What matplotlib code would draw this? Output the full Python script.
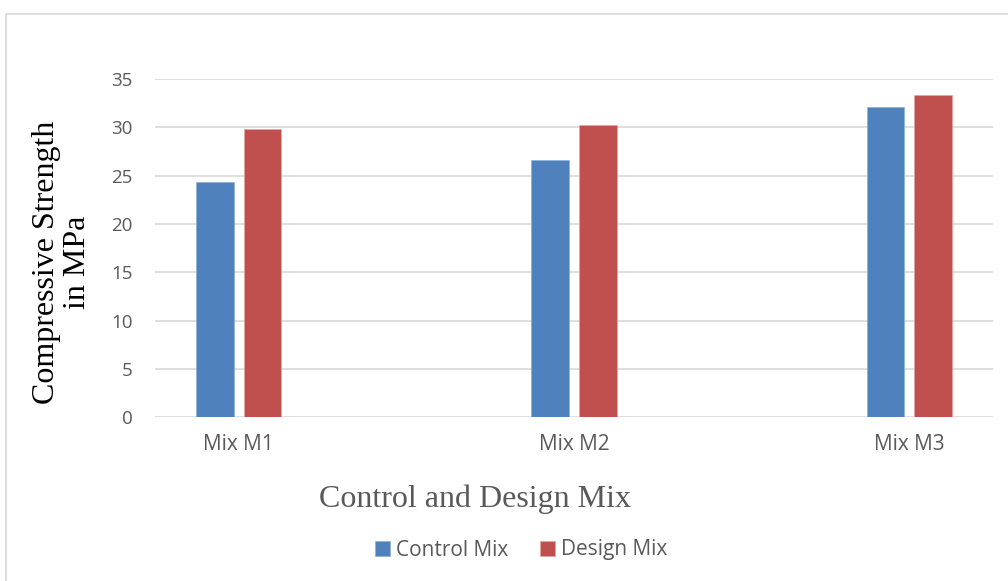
import matplotlib
matplotlib.use("Agg")
import matplotlib.pyplot as plt
from matplotlib.lines import Line2D
import numpy as np

categories = ["Mix M1", "Mix M2", "Mix M3"]
control_mix = [24.3, 26.6, 32.1]
design_mix = [29.85, 30.2, 33.35]
y_ticks = [0, 5, 10, 15, 20, 25, 30, 35]

W, H = 1008, 581
fig = plt.figure(figsize=(W / 100, H / 100), dpi=100)
ax = fig.add_axes([155 / W, 1 - 417.3 / H, (993 - 155) / W, (417.3 - 79) / H])

x = np.arange(len(categories))
bw = 0.112
off = 0.071
blue = "#4F81BD"
red = "#C0504D"
ax.bar(x - off, control_mix, bw, color=blue, edgecolor="#8fb0d8", linewidth=0.5,
       label="Control Mix", zorder=3)
ax.bar(x + off, design_mix, bw, color=red, edgecolor="#e3a3a1", linewidth=0.5,
       label="Design Mix", zorder=3)

ax.set_xlim(-0.25, 2.25)
ax.set_ylim(0, 35)
ax.set_yticks(y_ticks)
ax.set_xticks(x)
ax.set_xticklabels(categories)
ax.yaxis.grid(True, color="#d9d9d9", linewidth=1.2, zorder=0)
ax.set_axisbelow(True)
for s in ax.spines.values():
    s.set_visible(False)
ax.tick_params(length=0, colors="#595959", labelcolor="#595959")
ax.tick_params(axis="y", pad=16, labelsize=13.5)
ax.tick_params(axis="x", pad=12, labelsize=15)
for lbl in ax.get_xticklabels() + ax.get_yticklabels():
    lbl.set_fontfamily("Open Sans")

fig.text(62 / W, 1 - 262 / H, "Compressive Strength\nin MPa", fontfamily="Liberation Serif",
         fontsize=23, color="black", linespacing=1.12, rotation=90,
         ha="center", va="center", multialignment="center")
fig.text(475 / W, 1 - 499 / H, "Control and Design Mix", fontfamily="Liberation Serif",
         fontsize=23, color="#595959", ha="center", va="center")

leg = fig.legend(loc="center", bbox_to_anchor=(521 / W, 1 - 550 / H), ncol=2,
                 frameon=False, prop={"family": "Open Sans", "size": 15},
                 handlelength=0.72, handleheight=0.72, handletextpad=0.3,
                 columnspacing=1.5)
for t in leg.get_texts():
    t.set_color("#595959")

# chart area outline
fig.add_artist(Line2D([5.5 / W, 5.5 / W], [0, 1 - 13.5 / H], transform=fig.transFigure,
                      color="#d9d9d9", linewidth=1.2))
fig.add_artist(Line2D([5.5 / W, 1], [1 - 13.5 / H, 1 - 13.5 / H], transform=fig.transFigure,
                      color="#d9d9d9", linewidth=1.2))

fig.savefig("out.png", dpi=100, facecolor="white")
